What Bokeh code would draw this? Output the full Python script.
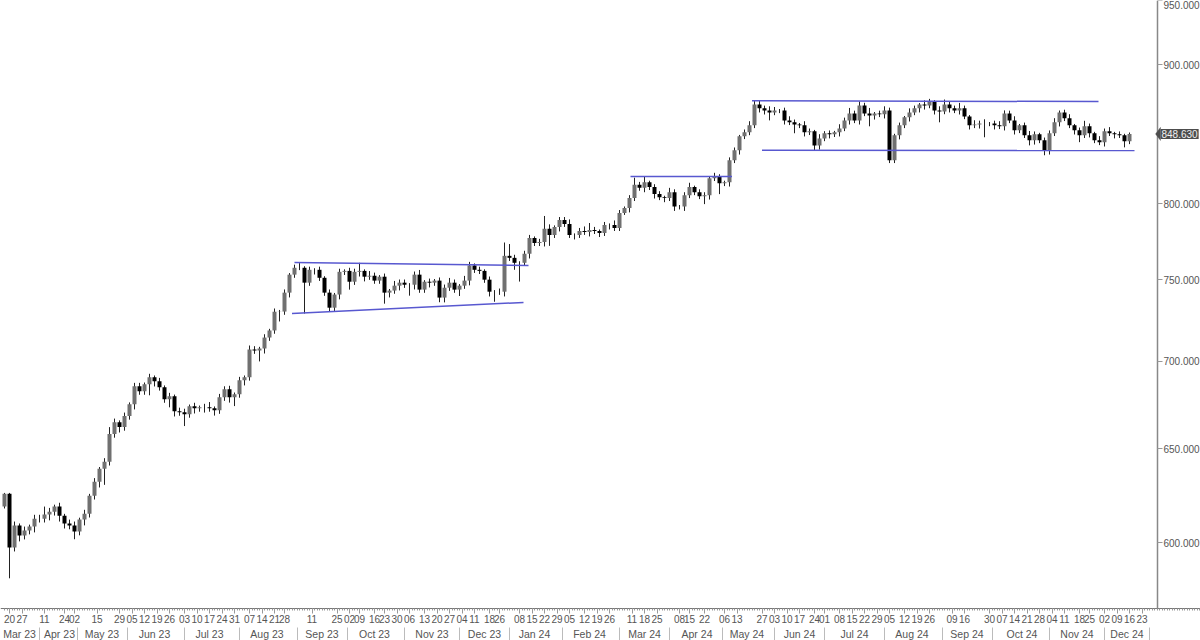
from bokeh.plotting import figure
from bokeh.models import FixedTicker, PrintfTickFormatter, LinearAxis, Range1d, Label, PolyAnnotation
from bokeh.embed import file_html
from bokeh.resources import INLINE

first_open = 618.8
close = [625.5,597.7,609,603.8,606.4,608.4,612.5,612.5,614.6,616.1,
618.8,614,610,609,605.9,612,615.1,624.5,631.9,638.9,
642.7,658,664.7,661.9,668.1,674.9,685.2,682.3,686.4,690.5,
688.1,684.7,677.7,679.4,670.9,670.3,669.2,673.7,672.6,673.1,
673.1,672.6,671.4,678.8,683.5,678.8,680.6,688.7,690.5,706.9,
706.3,707.5,714.1,718.4,729.9,730,741.8,753.2,757.6,757.6,
748.1,756.3,756.3,751.2,741.8,732.4,740.6,755,755.6,748.7,
755,755.6,751.9,752.5,749.4,751.9,741.8,743.1,746.2,748.1,
746.8,746.8,753.2,743.7,748.7,748.1,749.4,738.7,744.9,748.1,
743.7,746.2,749.4,759.1,756.3,755.6,750,742.4,742.4,742.4,
765.3,764,760.8,760.8,766.6,777,773.7,774.4,783,779,
784.3,788.9,786.3,779,779,781.6,781,782.3,781.6,780.3,
785.6,785.6,783.6,793.6,797,803.7,812.8,810.7,814.6,811.2,
806.4,804.3,803.7,807.7,798,798,805.7,811.2,807.7,805,
805.7,817.4,818.1,813.9,814.6,829.9,836.9,846.9,849.8,854.8,
870.1,867.2,865.7,864.2,865.7,865.7,858.4,857,855.5,854.8,
849.8,850.5,840.4,845.4,849.1,848.4,849.8,852.6,858.4,863.5,
858.4,869.3,863.5,862,863.5,862.8,865.7,829.9,847.7,854.8,
860.6,864.2,867.2,870.1,869.3,872.2,865.7,864.9,870.1,867.2,
865.7,867.2,861.3,854.8,855.5,856.2,856.2,856.2,854.8,854.1,
863.5,858.4,851.2,854.8,847.7,844,848.4,844,836.9,849.1,
857,864.2,859.9,854.8,851.2,847.7,854.1,849.1,844,842.6,
850.5,849.1,848.4,847.7,843.3,848.63]

wick_hi = [0.5,0.5,2,1,2,1,2,2,4.2,2,
1,2,1,2,2,1,2,1,2,1,
2,3.9,2,1,2,1,2,2,1,2,
1,2,1,2,1,2,2,1,2,1,
2,3,1,2,1.7,2,1,2,1,2.4,
2,1,2,1,2,1,2,1,2,3,
1,2,1,2,1,2,1,2,1,2,
2,5.2,1,3,2,1,2,1,3,2,
2,1,2,3,1,2,1,2,2,3,
2,1,3,2.3,1.3,2,1,2,1,2,
8.7,7.7,2,1,2,2,1,2,8.6,3,
1,2,2,3,1,2,3,4.6,2,1,
2,1,3,2,1,2,4.9,2,4.2,1,
2,2,1,3,2,1,2,3,1,2,
2,1,3,2,1,2,2,1,2,3,
2.9,3,2,3,2.5,1,2,3,2,1,
3,2,1,3,1.5,2,1,3,2,4,
2,3,2,4,1,2,3,2,1,2,
1,3,2,1,3,2,1,3,3.6,2,
2,4,2,1,3,2,3,1,2,3,
2.2,2,3,1,2,3,2,1,2,2,
3,1.4,2,3,1,2,4,2,1,3,
2,3,1,2,1,1]

wick_lo = [1,15.4,2,3,2,2,3,2,2,3,
2,3,2.6,2,4,2,3,2,2,3,
8.6,2,2,3,2,2,3,2,2,6.4,
3,2,2,4.6,3,2,6.7,2,3,2,
3,2,3,2,2,3,5,2,3,2,
2,6.5,3,2,2,6,2,3,2,1.5,
19.3,2,3,2,2,2.4,2,3,2,5,
2,3,3,2,2,2,6.9,3,2,3,
2,6.9,3,2,2,3,2,2.9,3,2,
2,4,2,3,2,2,2,3,6.3,2,
3,2,4.5,12,2,3,2,2,3,7.2,
2,3,2,2,3,2,2,3,2,2.7,
2,3,2,2,1.3,3,2,2,3,2,
3,2,2.8,2,3,2,3,2,2,2,
5.4,3,2,7.5,2,3,2,3,2,2.1,
2,3,3,5.8,2,2,3,2,6.4,2,
3,2,3.5,3,2,3,2,3,2,3,
2,3,2,7.9,3,2,3,2,2,3,
2,3,2,3,3,2,3,7.9,2,3,
2,3,2,3,2,3,10,2,3,2,
3,2,3,2,2,3.6,3,2,3.5,3,
2,3,2,2,3,5,2,3,2,2,
3,2,3,2,4.3,2]

day_sessions = [2,7,16,24,28,37,46,51,56,61,66,72,77,82,87,92,98,103,108,112,123,133,138,142,148,152,157,
162,168,173,178,183,188,194,198,206,211,216,221,226,232,237,242,251,256,261,270,274,280,288,293,303,308,
313,318,324,328,334,339,344,349,354,360,365,370,379,384,394,399,404,409,414,419,424,430,434,440,445,450,455]
day_labels = ["20","27","11","24","02","15","29","05","12","19","26","03","10","17","24","31","07","14","21","28","11","25","02","09","16","23","30",
"06","13","20","27","04","11","18","26","08","15","22","29","05","12","19","26","11","18","25","08","15","22","06","13","27","03",
"10","17","24","01","08","15","22","29","05","12","19","26","09","16","30","07","14","21","28","04","11","18","25","02","09","16","23"]
month_sessions = [6,22,39,60,82,105,127,148,171,192,212,234,256,277,297,318,340,363,385,407,429,449]
month_labels = ["Mar 23","Apr 23","May 23","Jun 23","Jul 23","Aug 23","Sep 23","Oct 23","Nov 23","Dec 23","Jan 24",
"Feb 24","Mar 24","Apr 24","May 24","Jun 24","Jul 24","Aug 24","Sep 24","Oct 24","Nov 24","Dec 24"]
month_breaks = [14,29,49,72,94,117,137,160,182,202,223,246,266,287,308,328,352,375,395,418,440,458]
price_ticks = [600,650,700,750,800,900,950]
last_price = 848.63

trend_x = [[116,209.6],[115,207.6],[250.4,291],[299,437.6],[303,452]]
trend_y = [[761,759],[728.8,735.7],[818.6,818.6],[872.8,872.2],[836.9,836.7]]

FONT = "Liberation Sans"
X0, X1 = -1.6, 478.4      # x range runs on past the price axis, to the page edge
AXIS_X = 461.2            # session where the price axis stands
Y_MIN, Y_MAX = 552.4, 950.2
AXIS_Y, MONTH_Y = 567.6, 558.7

p = figure(width=1200, height=640, output_backend="svg", toolbar_location=None,
           y_axis_type="log", y_axis_location="right",
           x_range=Range1d(X0, X1), y_range=Range1d(Y_MIN, Y_MAX),
           min_border_left=0, min_border_right=0, min_border_top=0, min_border_bottom=0,
           outline_line_color=None, background_fill_color="white")
p.grid.visible = False

x = [2 * i for i in range(len(close))]
opens = [first_open] + close[:-1]
tops = [max(o, c) for o, c in zip(opens, close)]
bots = [min(o, c) for o, c in zip(opens, close)]
highs = [t + w for t, w in zip(tops, wick_hi)]
lows = [b - w for b, w in zip(bots, wick_lo)]
colors = ["#707070" if c >= o else "#000000" for o, c in zip(opens, close)]

p.segment(x, lows, x, highs, color="#222222", line_width=1)
p.vbar(x=x, top=tops, bottom=bots, width=1.6, fill_color=colors, line_color=None)

for xs, ys in zip(trend_x, trend_y):
    p.line(xs, ys, line_color="#5858d0", line_width=1.5)

ax = p.xaxis[0]
ax.fixed_location = AXIS_Y
ax.ticker = FixedTicker(ticks=day_sessions, minor_ticks=list(range(0, 479)))
ax.major_label_overrides = dict(zip(day_sessions, day_labels))
ax.axis_line_color = "#777777"
ax.major_tick_line_color = "#999999"
ax.minor_tick_line_color = "#999999"
ax.major_tick_in = 0
ax.major_tick_out = 5
ax.minor_tick_in = 0
ax.minor_tick_out = 2
ax.major_label_text_font = FONT
ax.major_label_text_font_size = "10px"
ax.major_label_text_color = "#555555"
ax.major_label_standoff = 2

mx = LinearAxis(ticker=FixedTicker(ticks=month_sessions, minor_ticks=month_breaks),
                major_label_overrides=dict(zip(month_sessions, month_labels)))
mx.fixed_location = MONTH_Y
mx.axis_line_color = None
mx.major_tick_line_color = None
mx.major_tick_in = 0
mx.major_tick_out = 0
mx.minor_tick_in = 0
mx.minor_tick_out = 13
mx.minor_tick_line_color = "#bbbbbb"
mx.major_label_text_font = FONT
mx.major_label_text_font_size = "10.5px"
mx.major_label_text_color = "#555555"
mx.major_label_standoff = -12
p.add_layout(mx, "below")

ay = p.yaxis[0]
ay.fixed_location = AXIS_X
ay.bounds = (AXIS_Y, Y_MAX)
ay.ticker = FixedTicker(ticks=price_ticks)
ay.formatter = PrintfTickFormatter(format="%.3f")
ay.axis_line_color = "#888888"
ay.axis_line_width = 1.5
ay.major_tick_line_color = "#999999"
ay.major_tick_in = 0
ay.major_tick_out = 5
ay.minor_tick_in = 0
ay.minor_tick_out = 0
ay.major_label_text_font = FONT
ay.major_label_text_font_size = "10px"
ay.major_label_text_color = "#555555"
ay.major_label_standoff = 1

tag = PolyAnnotation(xs_units="screen", ys_units="data",
                     xs=[1155, 1160, 1160],
                     ys=[last_price, last_price * 1.0056, last_price * 0.9944],
                     fill_color="#4d4d4d", fill_alpha=1, line_color="#4d4d4d", level="overlay")
p.add_layout(tag)
p.add_layout(Label(x_units="screen", y_units="data", x=1160, y=last_price, text="848.630", text_color="#f0f0f0",
                   text_font=FONT, text_font_size="10px", text_baseline="middle", level="overlay",
                   background_fill_color="#4d4d4d", padding=(1, 1, 1, 1)))

open("out.html", "w").write(file_html(p, INLINE))
